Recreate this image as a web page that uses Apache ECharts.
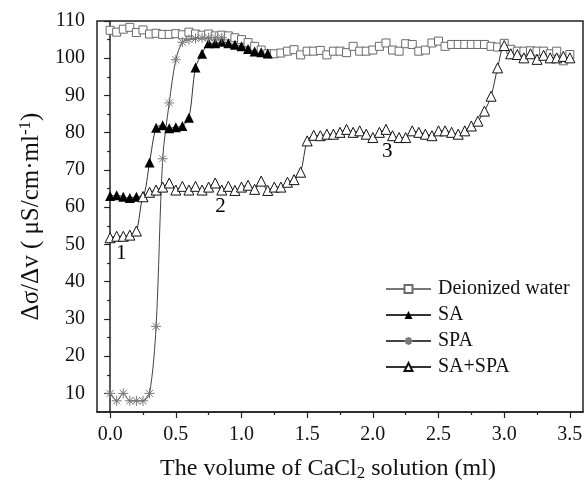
<!DOCTYPE html>
<html>
<head>
<meta charset="utf-8">
<script src="https://cdn.jsdelivr.net/npm/echarts@6/dist/echarts.min.js"></script>
<style>html,body{margin:0;padding:0;background:#fff}#c{width:586px;height:487px}</style>
</head>
<body>
<div id="c"></div>
<script>
const volume = [0,0.05,0.1,0.15,0.2,0.25,0.3,0.35,0.4,0.45,0.5,0.55,0.6,0.65,0.7,0.75,0.8,0.85,0.9,0.95,
1.0,1.05,1.1,1.15,1.2,1.25,1.3,1.35,1.4,1.45,1.5,1.55,1.6,1.65,1.7,1.75,1.8,1.85,1.9,1.95,
2.0,2.05,2.1,2.15,2.2,2.25,2.3,2.35,2.4,2.45,2.5,2.55,2.6,2.65,2.7,2.75,2.8,2.85,2.9,2.95,
3.0,3.05,3.1,3.15,3.2,3.25,3.3,3.35,3.4,3.45,3.5];
const deionized = [107.5,107.0,107.8,108.3,106.9,107.6,106.5,106.7,106.4,106.4,
106.6,106.3,107.0,106.5,106.2,106.5,106.0,106.2,106.0,105.5,
105.0,104.2,103.2,102.2,101.2,101.2,101.4,101.9,102.3,100.9,
101.9,101.9,102.1,100.9,101.9,101.9,101.5,103.2,101.9,101.9,
102.2,103.2,104.1,102.2,101.9,103.9,103.7,101.9,102.2,104.1,
104.6,103.2,103.7,103.7,103.7,103.7,103.7,103.7,103.2,103.0,
104.0,102.4,101.9,101.9,102.0,101.9,101.9,101.2,101.9,99.3,101.0];
const sa = [63.0,63.2,62.8,62.5,62.8,63.0,72.0,81.3,82.0,81.2,81.5,81.8,84.0,97.5,101.2,104.0,104.0,104.4,104.0,103.6,103.2,102.5,101.8,101.6,101.3];
const spa = [10,8,10,8,8,8,10,28,73,88,99.6,104.3,105,105.3,105.5,105.5,105.5,105.5];
const saSpa = [51.8,52.2,52.2,52.5,53.6,62.8,64.0,64.6,65.4,66.5,
64.6,65.6,64.6,65.6,64.6,65.4,66.5,64.6,65.6,64.5,
65.4,65.9,64.8,67.0,64.5,65.4,65.4,66.7,67.4,69.4,
77.8,79.3,79.2,79.6,79.6,80.1,80.9,80.1,80.5,79.6,
78.7,80.1,80.9,79.2,78.7,78.7,80.5,80.1,79.6,79.2,
80.5,80.5,80.1,79.6,80.5,81.8,83.1,85.8,89.8,97.4,
103.4,101.2,101.0,100.1,101.2,99.7,100.8,100.1,100.1,100.5,100.1];
const xTicks = [0,0.5,1.0,1.5,2.0,2.5,3.0,3.5];
const xMinor = [0.25,0.75,1.25,1.75,2.25,2.75,3.25];
const yTicks = [10,20,30,40,50,60,70,80,90,100,110];
const yMinor = [15,25,35,45,55,65,75,85,95,105];
const notes = [{name:'1', value:[0.084,47.6]},{name:'2', value:[0.84,60.3]},{name:'3', value:[2.11,74.9]}];

const FONT = "'Liberation Serif','Times New Roman',serif";
const pair = (xs, ys) => ys.map((v, i) => [xs[i], v]);
const star = 'path://M0,5L10,5M5,0L5,10M1.5,1.5L8.5,8.5M8.5,1.5L1.5,8.5';

const chart = echarts.init(document.getElementById('c'), null, {renderer:'canvas'});
const baseX = {type:'value', min:-0.1, max:3.6, gridIndex:0};
const baseY = {type:'value', min:5, max:110, gridIndex:0};
chart.setOption({
  animation:false,
  backgroundColor:'#fff',
  grid:{left:97, right:3, top:21, bottom:72, show:true, borderColor:'#222', borderWidth:1.5, backgroundColor:'transparent'},
  xAxis:[
    Object.assign({}, baseX, {
      position:'bottom',
      axisLine:{lineStyle:{color:'#222', width:1.5}},
      axisTick:{show:true, inside:false, length:6, lineStyle:{color:'#222', width:1.2}, customValues:xTicks},
      axisLabel:{show:true, customValues:xTicks, formatter:v=>v.toFixed(1), fontFamily:FONT, fontSize:20, color:'#111', margin:13},
      splitLine:{show:false},
      name:'The volume of CaCl{sub|2} solution (ml)',
      nameLocation:'middle', nameGap:43,
      nameTextStyle:{fontFamily:FONT, fontSize:24, color:'#111', padding:[0,24,0,0],
        rich:{sub:{fontFamily:FONT, fontSize:17, color:'#111', padding:[10,0,0,0]}}}
    }),
    Object.assign({}, baseX, {
      position:'bottom',
      axisLine:{show:false},
      axisTick:{show:true, inside:false, length:3, lineStyle:{color:'#222', width:1.2}, customValues:xMinor},
      axisLabel:{show:false},
      splitLine:{show:false}
    })
  ],
  yAxis:[
    Object.assign({}, baseY, {
      position:'left',
      axisLine:{show:true, lineStyle:{color:'#222', width:1.5}},
      axisTick:{show:true, inside:false, length:6, lineStyle:{color:'#222', width:1.2}, customValues:yTicks},
      axisLabel:{show:true, customValues:yTicks, fontFamily:FONT, fontSize:20, color:'#111', margin:12},
      splitLine:{show:false},
      name:'Δσ/Δv ( μS/cm·ml{sup|-1})',
      nameLocation:'middle', nameRotate:90, nameGap:47,
      nameTextStyle:{fontFamily:FONT, fontSize:25, color:'#111',
        rich:{sup:{fontFamily:FONT, fontSize:17, color:'#111', padding:[0,0,12,0]}}}
    }),
    Object.assign({}, baseY, {
      position:'left',
      axisLine:{show:false},
      axisTick:{show:true, inside:false, length:3, lineStyle:{color:'#222', width:1.2}, customValues:yMinor},
      axisLabel:{show:false},
      splitLine:{show:false}
    })
  ],
  legend:{
    data:['Deionized water','SA','SPA','SA+SPA'],
    orient:'vertical', left:380, top:271,
    itemWidth:45, itemHeight:10, itemGap:0,
    textStyle:{fontFamily:FONT, fontSize:20, color:'#111', lineHeight:26, padding:[0,0,0,2]}
  },
  series:[
    {name:'Deionized water', type:'line', data:pair(volume, deionized),
      symbol:'rect', symbolSize:8, showAllSymbol:true,
      lineStyle:{color:'#777', width:1}, itemStyle:{color:'#fff', borderColor:'#6a6a6a', borderWidth:1}},
    {name:'SA', type:'line', data:pair(volume, sa), smooth:0.3,
      symbol:'triangle', symbolSize:10, showAllSymbol:true,
      lineStyle:{color:'#333', width:1}, itemStyle:{color:'#000', borderColor:'#000', borderWidth:0}},
    {name:'SPA', type:'line', data:pair(volume, spa), smooth:0.3,
      symbol:star, symbolSize:10, showAllSymbol:true,
      lineStyle:{color:'#444', width:1}, itemStyle:{color:'rgba(0,0,0,0)', borderColor:'#777', borderWidth:1}},
    {name:'SA+SPA', type:'line', data:pair(volume, saSpa), smooth:0.3,
      symbol:'triangle', symbolSize:10, showAllSymbol:true,
      lineStyle:{color:'#333', width:1}, itemStyle:{color:'#fff', borderColor:'#111', borderWidth:1}},
    {name:'notes', type:'scatter', data:notes, symbolSize:0, silent:true,
      itemStyle:{opacity:1},
      label:{show:true, position:'inside', formatter:p=>p.name, fontFamily:FONT, fontSize:21, color:'#000', opacity:1}}
  ]
});
</script>
</body>
</html>
